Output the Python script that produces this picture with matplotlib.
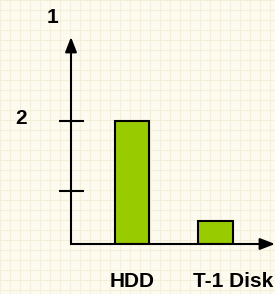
import matplotlib.pyplot as plt
import matplotlib.transforms as mtransforms
import numpy as np

# data
categories = ["HDD", "T-1 Disk"]
values = [2.0, 0.37]
tick_values = [0.86, 2.0]

plt.rcParams['font.family'] = ['Liberation Sans', 'DejaVu Sans']

W, H = 275, 294
fig = plt.figure(figsize=(W / 100, H / 100), dpi=100)

# background with faint grid (pixel coords)
bg = fig.add_axes([0, 0, 1, 1])
bg.set_xlim(0, W)
bg.set_ylim(H, 0)
bg.set_facecolor('#fdfbef')
for gx in np.arange(0, W + 1, 10):
    bg.axvline(gx, color='#f4efda', lw=0.8)
for gy in np.arange(0, H + 1, 10):
    bg.axhline(gy, color='#f4efda', lw=0.8)
bg.set_xticks([])
bg.set_yticks([])
for s in bg.spines.values():
    s.set_visible(False)
bg.text(53, 17.5, "1", fontsize=15, fontweight='bold', ha='center', va='center')
bg.text(21.5, 118.5, "2", fontsize=15, fontweight='bold', ha='center', va='center')

# chart axes
left, right, top, bottom = 71, 275, 37, 244
ax = fig.add_axes([left / W, (H - bottom) / H, (right - left) / W, (bottom - top) / H])
ax.patch.set_alpha(0)
x = np.arange(len(categories))
ax.bar(x, values, width=0.413, color='#99cc00', edgecolor='black', linewidth=1.5, zorder=3)
ax.set_xlim(-0.731, 1.713)
ax.set_ylim(0, 3.366)

for s in ax.spines.values():
    s.set_visible(False)
ax.set_yticks(tick_values)
ax.set_yticklabels([])
ax.tick_params(axis='y', direction='inout', length=18, width=1.5, color='black')
ax.set_xticks([])

# category labels under the axis
trans = mtransforms.blended_transform_factory(ax.transData, ax.transAxes)
ax.text(x[0], -0.181, categories[0], transform=trans, fontsize=15, fontweight='bold',
        ha='center', va='center', clip_on=False)
ax.text(x[1] - 0.27, -0.181, categories[1], transform=trans, fontsize=15, fontweight='bold',
        ha='left', va='center', clip_on=False)

arrow = dict(arrowstyle='-|>,head_length=0.9,head_width=0.35', lw=1.5, color='black',
             shrinkA=0, shrinkB=0)
ax.annotate('', xy=(0, 1), xytext=(0, 0), xycoords='axes fraction', arrowprops=arrow,
            annotation_clip=False)
ax.annotate('', xy=(1.0, 0), xytext=(0, 0), xycoords='axes fraction', arrowprops=arrow,
            annotation_clip=False)

fig.savefig('out.png', dpi=100)
